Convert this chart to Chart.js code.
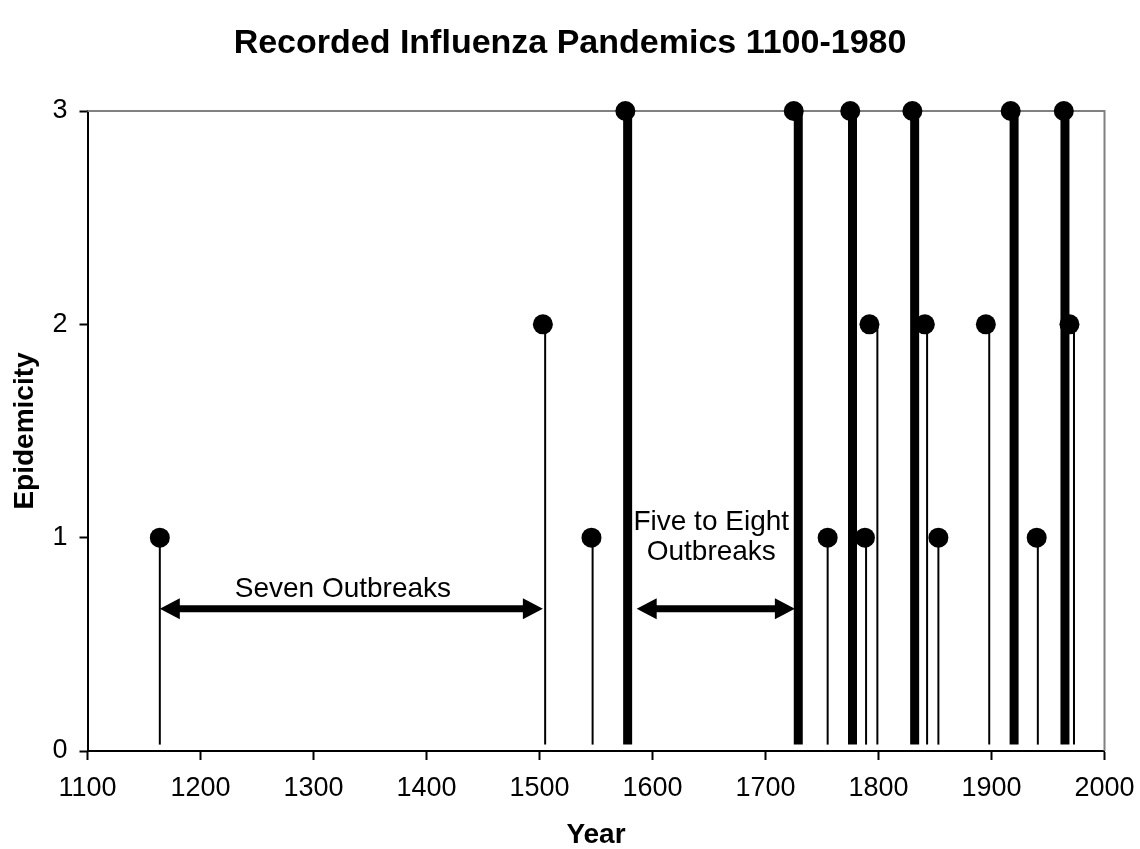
<!DOCTYPE html>
<html><head><meta charset="utf-8">
<script src="https://cdn.jsdelivr.net/npm/chart.js@4.4.1/dist/chart.umd.min.js"></script>
<style>html,body{margin:0;padding:0;background:#fff;}#wrap{width:1140px;height:849px;position:relative;}</style>
</head><body><div id="wrap"><canvas id="c" width="1140" height="849"></canvas></div>
<script>
// ---- data ----
const markerYears = [1164, 1503, 1546, 1576, 1725, 1755, 1775, 1788, 1792, 1830, 1841, 1853, 1895, 1917, 1940, 1964, 1969];
const stemYears   = [1164, 1505, 1547, 1578, 1729, 1755, 1777, 1789, 1799, 1832, 1843, 1853, 1898, 1920, 1941, 1965, 1973];
const levels      = [1,    2,    1,    3,    3,    1,    3,    1,    2,    3,    2,    1,    2,    3,    1,    3,    2];
const xTicks = [1100, 1200, 1300, 1400, 1500, 1600, 1700, 1800, 1900, 2000];
const yTicks = [0, 1, 2, 3];
const arrowFrom = [1164, 1586];
const arrowTo   = [1503, 1726];
const arrowLevels = [0.667, 0.667];
const noteTexts = [["Seven Outbreaks"], ["Five to Eight", "Outbreaks"]];
const noteYears = [1326, 1652];
const noteLevels = [0.76, 1.0];
const stemBase = 0.03;
const chartTitle = "Recorded Influenza Pandemics 1100-1980";
const xTitle = "Year";
const yTitle = "Epidemicity";

const FONT = "'Liberation Sans', Arial, Helvetica, sans-serif";

const datasets = [];
datasets.push({
  label: 'Pandemics',
  data: markerYears.map((x, i) => ({x: x, y: levels[i]})),
  pointRadius: 10, pointHoverRadius: 10,
  pointBackgroundColor: '#000', pointBorderWidth: 0,
  showLine: false, clip: false
});
stemYears.forEach((x, i) => {
  datasets.push({
    label: 'stem' + i,
    data: [{x: x, y: stemBase}, {x: x, y: levels[i]}],
    showLine: true, borderColor: '#000',
    borderWidth: levels[i] === 3 ? 9 : 2,
    borderCapStyle: 'butt',
    pointRadius: 0, pointHoverRadius: 0, clip: false
  });
});

const framePlugin = {
  id: 'frame',
  beforeDatasetsDraw(chart) {
    const {ctx, chartArea: a} = chart;
    ctx.save();
    ctx.strokeStyle = '#808080';
    ctx.lineWidth = 2;
    ctx.beginPath();
    ctx.moveTo(a.left, a.top);
    ctx.lineTo(a.right, a.top);
    ctx.lineTo(a.right, a.bottom);
    ctx.stroke();
    ctx.restore();
  }
};

const annotPlugin = {
  id: 'annot',
  afterDatasetsDraw(chart) {
    const {ctx, scales: {x, y}} = chart;
    ctx.save();
    ctx.fillStyle = '#000';
    ctx.strokeStyle = '#000';
    arrowFrom.forEach((f, i) => {
      const x1 = x.getPixelForValue(f), x2 = x.getPixelForValue(arrowTo[i]);
      const yy = y.getPixelForValue(arrowLevels[i]);
      const head = 20, half = 10.5;
      ctx.lineWidth = 7;
      ctx.beginPath();
      ctx.moveTo(x1 + head - 2, yy);
      ctx.lineTo(x2 - head + 2, yy);
      ctx.stroke();
      ctx.beginPath();
      ctx.moveTo(x1, yy); ctx.lineTo(x1 + head, yy - half); ctx.lineTo(x1 + head, yy + half); ctx.closePath();
      ctx.fill();
      ctx.beginPath();
      ctx.moveTo(x2, yy); ctx.lineTo(x2 - head, yy - half); ctx.lineTo(x2 - head, yy + half); ctx.closePath();
      ctx.fill();
    });
    ctx.font = '28px ' + FONT;
    ctx.textAlign = 'center';
    ctx.textBaseline = 'middle';
    noteTexts.forEach((lines, i) => {
      const cx = x.getPixelForValue(noteYears[i]);
      const cy = y.getPixelForValue(noteLevels[i]);
      const lh = 30;
      const start = cy - (lines.length - 1) * lh / 2;
      lines.forEach((t, j) => ctx.fillText(t, cx, start + j * lh));
    });
    ctx.restore();
  }
};

new Chart(document.getElementById('c'), {
  type: 'scatter',
  data: {datasets},
  options: {
    responsive: false,
    animation: false,
    events: [],
    layout: {padding: 0},
    plugins: {
      legend: {display: false},
      tooltip: {enabled: false},
      title: {
        display: true, text: chartTitle, color: '#000',
        font: {family: FONT, size: 34, weight: 'bold'},
        padding: {top: 23, bottom: 47.2}
      }
    },
    scales: {
      x: {
        type: 'linear', min: 1100, max: 2000,
        afterBuildTicks: s => { s.ticks = xTicks.map(v => ({value: v})); },
        afterFit: s => { s.height = 98; s.paddingLeft = 0; s.paddingRight = 35.5; },
        ticks: {color: '#000', font: {family: FONT, size: 27}, padding: 12, maxRotation: 0, autoSkip: false,
                callback: v => String(v)},
        grid: {drawOnChartArea: false, drawTicks: true, tickLength: 9, tickColor: '#000', tickWidth: 2},
        border: {color: '#000', width: 2},
        title: {display: true, text: xTitle, color: '#000', font: {family: FONT, size: 28, weight: 'bold'}, padding: {top: 0, bottom: -3}}
      },
      y: {
        type: 'linear', min: 0, max: 3,
        afterBuildTicks: s => { s.ticks = yTicks.map(v => ({value: v})); },
        afterFit: s => { s.width = 87.5; s.paddingTop = 0; s.paddingBottom = 0; },
        ticks: {color: '#000', font: {family: FONT, size: 27}, padding: 12, callback: v => String(v)},
        grid: {drawOnChartArea: false, drawTicks: true, tickLength: 8, tickColor: '#000', tickWidth: 2},
        border: {color: '#000', width: 2},
        title: {display: true, text: yTitle, color: '#000', font: {family: FONT, size: 28, weight: 'bold'}, padding: {top: 8, bottom: 0}}
      }
    }
  },
  plugins: [framePlugin, annotPlugin]
});
</script>
</body></html>
